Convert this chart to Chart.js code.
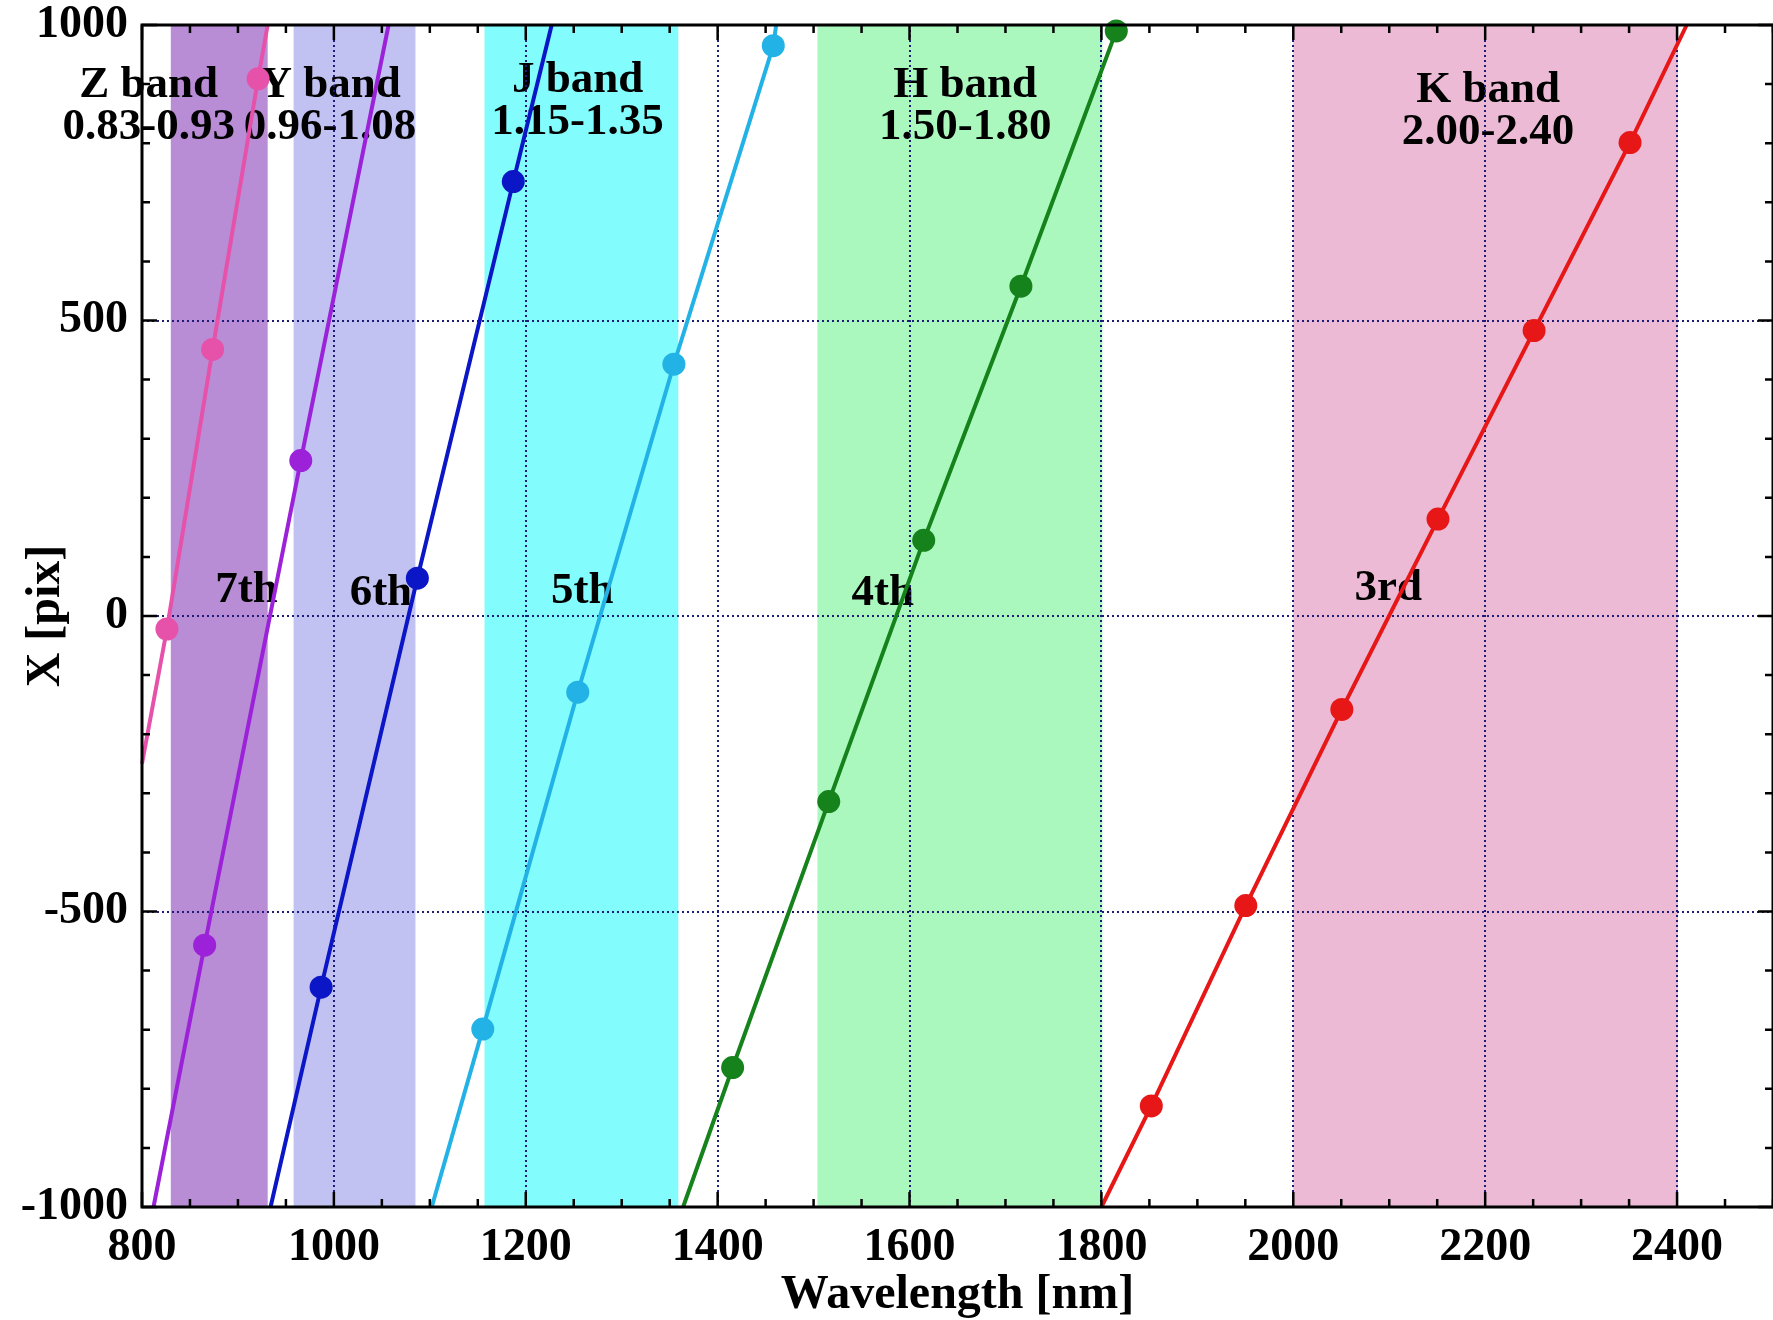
<!DOCTYPE html>
<html>
<head>
<meta charset="utf-8">
<script src="https://cdn.jsdelivr.net/npm/chart.js@4.4.1/dist/chart.umd.min.js"></script>
<style>
  html, body { margin: 0; padding: 0; background: #ffffff; }
  #wrap { width: 1773px; height: 1320px; position: relative; }
</style>
</head>
<body>
<div id="wrap"><canvas id="chart" width="1773" height="1320"></canvas></div>
<script>
// Axis tick labels
const xTickValues = [800, 1000, 1200, 1400, 1600, 1800, 2000, 2200, 2400];
const yTickValues = [-1000, -500, 0, 500, 1000];

// Photometric bands (wavelength in nm)
const bandNames  = ['Z band', 'Y band', 'J band', 'H band', 'K band'];
const bandRanges = ['0.83-0.93', '0.96-1.08', '1.15-1.35', '1.50-1.80', '2.00-2.40'];
const bandStart  = [830, 958, 1157, 1504, 2000];
const bandEnd    = [931, 1085, 1359, 1801, 2401];
const bandLabelWave = [807, 996, 1254, 1658, 2203];
const bandLabelX    = [897, 897, 907, 897, 890];

// Echelle orders: sampled wavelength [nm] vs detector X [pix]
const order8Wave = [826, 873.6, 921];
const order8X    = [-22, 451, 909];
const order8Ends = [[800, -250], [931, 1000]];

const order7Wave = [865.3, 965.5];
const order7X    = [-557, 263];
const order7Ends = [[812, -1000], [1057, 1000]];

const order6Wave = [986.7, 1087, 1187];
const order6X    = [-628, 64, 735];
const order6Ends = [[934, -1000], [1227, 1000]];

const order5Wave = [1155.2, 1254.2, 1354.4, 1458];
const order5X    = [-699, -129, 426, 965];
const order5Ends = [[1102, -1000], [1461, 1000]];

const order4Wave = [1415.6, 1515.8, 1614.8, 1716.1, 1815.5];
const order4X    = [-764, -314, 128, 558, 990];
const order4Ends = [[1364, -1000], [1817, 1000]];

const order3Wave = [1852, 1950.5, 2050.6, 2150.8, 2251, 2351];
const order3X    = [-829, -490, -158, 164, 483, 801];
const order3Ends = [[1800, -1000], [2410, 1000]];

// Order labels
const orderNames     = ['3rd', '4th', '5th', '6th', '7th'];
const orderLabelWave = [2099, 1572, 1259, 1049, 909];
const orderLabelX    = [47, 38, 41, 38, 44];

// Styles
const bandColors   = ['#b98cd6', '#c2c2f2', '#82fcfc', '#aaf8be', '#ecbad5'];
const seriesColors = ['#e651aa', '#9b22d8', '#0b16c6', '#22b2e6', '#15821c', '#e81717'];

const SERIF = '"Liberation Serif", "Times New Roman", serif';

function buildLine(wave, xs, ends) {
  const pts = [{ x: ends[0][0], y: ends[0][1] }];
  wave.forEach((w, i) => pts.push({ x: w, y: xs[i] }));
  pts.push({ x: ends[1][0], y: ends[1][1] });
  return pts;
}

const seriesList = [
  buildLine(order8Wave, order8X, order8Ends),
  buildLine(order7Wave, order7X, order7Ends),
  buildLine(order6Wave, order6X, order6Ends),
  buildLine(order5Wave, order5X, order5Ends),
  buildLine(order4Wave, order4X, order4Ends),
  buildLine(order3Wave, order3X, order3Ends)
];

const datasets = seriesList.map((pts, k) => ({
  data: pts,
  showLine: true,
  borderColor: seriesColors[k],
  backgroundColor: seriesColors[k],
  borderWidth: 4,
  pointRadius: ctx => (ctx.dataIndex === 0 || ctx.dataIndex === pts.length - 1) ? 0 : 11.5,
  pointHoverRadius: 0,
  pointBorderWidth: 0,
  clip: false,
  tension: 0
}));

const decor = {
  id: 'decor',
  beforeDraw(chart) {
    const { ctx, chartArea: a, scales: { x, y } } = chart;
    ctx.save();
    // band shading
    bandStart.forEach((s, i) => {
      const x0 = x.getPixelForValue(s);
      const x1 = x.getPixelForValue(bandEnd[i]);
      ctx.fillStyle = bandColors[i];
      ctx.fillRect(x0, a.top, x1 - x0, a.bottom - a.top);
    });
    // band names and ranges
    ctx.fillStyle = '#000';
    ctx.textAlign = 'center';
    ctx.textBaseline = 'middle';
    ctx.font = 'bold 45px ' + SERIF;
    bandNames.forEach((n, i) => {
      const px = x.getPixelForValue(bandLabelWave[i]);
      const py = y.getPixelForValue(bandLabelX[i]);
      ctx.fillText(n, px, py);
      ctx.fillText(bandRanges[i], px, py + 42);
    });
    // order labels
    orderNames.forEach((n, i) => {
      ctx.fillText(n, x.getPixelForValue(orderLabelWave[i]), y.getPixelForValue(orderLabelX[i]));
    });
    ctx.restore();
  },
  afterDraw(chart) {
    const { ctx, chartArea: a, scales: { x, y } } = chart;
    ctx.save();
    ctx.strokeStyle = '#000';
    ctx.lineWidth = 2.5;
    ctx.beginPath();
    // inward ticks, bottom and top
    for (let v = 800; v <= 2500; v += 50) {
      const px = x.getPixelForValue(v);
      const len = (v % 200 === 0) ? 15 : 8;
      ctx.moveTo(px, a.bottom); ctx.lineTo(px, a.bottom - len);
      ctx.moveTo(px, a.top); ctx.lineTo(px, a.top + len);
    }
    // inward ticks, left and right
    for (let v = -1000; v <= 1000; v += 100) {
      const py = y.getPixelForValue(v);
      const len = (v % 500 === 0) ? 15 : 8;
      ctx.moveTo(a.left, py); ctx.lineTo(a.left + len, py);
      ctx.moveTo(a.right, py); ctx.lineTo(a.right - len, py);
    }
    ctx.stroke();
    // frame
    ctx.lineWidth = 3;
    ctx.strokeRect(a.left, a.top, a.right - a.left, a.bottom - a.top);
    ctx.restore();
  }
};

const gridColor = (edges) => (c) => (edges.includes(c.tick && c.tick.value) ? 'rgba(0,0,0,0)' : '#1c1c78');
const plainLabel = v => String(v);

new Chart(document.getElementById('chart'), {
  type: 'scatter',
  data: { datasets },
  options: {
    responsive: false,
    animation: false,
    devicePixelRatio: 1,
    layout: { padding: { top: 25, right: 0, bottom: 0, left: 0 } },
    plugins: { legend: { display: false }, tooltip: { enabled: false } },
    scales: {
      x: {
        type: 'linear',
        min: 800,
        max: 2500,
        afterBuildTicks: s => { s.ticks = xTickValues.map(v => ({ value: v })); },
        afterFit: s => { s.height = 113; s.paddingLeft = 0; s.paddingRight = 0; },
        grid: { drawTicks: false, lineWidth: 2, color: gridColor([800, 2500]) },
        border: { display: false, dash: [2, 3] },
        ticks: {
          color: '#000',
          font: { family: SERIF, size: 46, weight: 'bold' },
          padding: 14,
          maxRotation: 0,
          autoSkip: false,
          callback: plainLabel
        },
        title: {
          display: true,
          text: 'Wavelength [nm]',
          color: '#000',
          font: { family: SERIF, size: 48, weight: 'bold', lineHeight: 1.0 },
          padding: { top: 0, bottom: 0 }
        }
      },
      y: {
        type: 'linear',
        min: -1000,
        max: 1000,
        afterBuildTicks: s => { s.ticks = yTickValues.map(v => ({ value: v })); },
        afterFit: s => { s.width = 142; s.paddingTop = 0; s.paddingBottom = 0; },
        grid: { drawTicks: false, lineWidth: 2, color: gridColor([-1000, 1000]) },
        border: { display: false, dash: [2, 3] },
        ticks: {
          color: '#000',
          font: { family: SERIF, size: 46, weight: 'bold' },
          padding: 14,
          callback: plainLabel
        },
        title: {
          display: true,
          text: 'X [pix]',
          color: '#000',
          font: { family: SERIF, size: 48, weight: 'bold' },
          padding: { top: 18, bottom: 0 }
        }
      }
    }
  },
  plugins: [decor]
});
</script>
</body>
</html>
